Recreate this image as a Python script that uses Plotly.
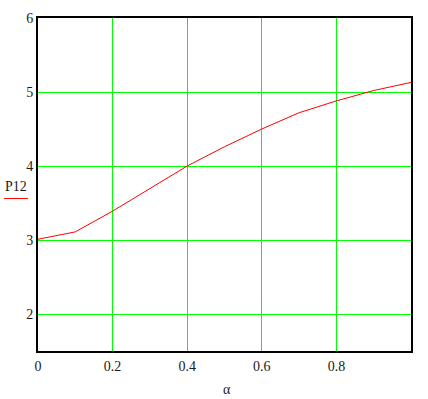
import plotly.graph_objects as go

alpha = [0.0, 0.1, 0.2, 0.3, 0.4, 0.5, 0.6, 0.7, 0.8, 0.9, 1.0]
p12 = [3.01, 3.11, 3.39, 3.69, 4.0, 4.26, 4.5, 4.72, 4.88, 5.02, 5.13]
x_ticks = [0, 0.2, 0.4, 0.6, 0.8]
x_labels = ["0", "0.2", "0.4", "0.6", "0.8"]
y_ticks = [2, 3, 4, 5, 6]
y_labels = ["2", "3", "4", "5", "6"]

font = dict(family="Liberation Serif, Times New Roman, serif", size=14, color="#1a1a1a")

fig = go.Figure()
fig.add_trace(go.Scatter(x=alpha, y=p12, mode="lines",
                         line=dict(color="#FF0000", width=1), showlegend=False))

fig.update_layout(
    width=428, height=399,
    margin=dict(l=38, r=17, t=18, b=48, autoexpand=False),
    paper_bgcolor="white", plot_bgcolor="white",
    font=font,
    xaxis=dict(range=[0, 1], tickvals=x_ticks, ticktext=x_labels,
               showgrid=True, gridcolor="#00FF00", gridwidth=1,
               zeroline=False, showline=True, linecolor="black", linewidth=2,
               mirror=True, ticks="", ticklabelstandoff=1, tickfont=font),
    yaxis=dict(range=[1.5, 6], tickvals=y_ticks, ticktext=y_labels,
               showgrid=True, gridcolor="#00FF00", gridwidth=1,
               zeroline=False, showline=True, linecolor="black", linewidth=2,
               mirror=True, ticks="", ticklabelstandoff=0, tickfont=font),
    annotations=[
        dict(text="P12", xref="paper", yref="paper", x=-0.058, y=0.495,
             xanchor="center", yanchor="middle", showarrow=False, font=font),
        dict(text="α", xref="paper", yref="paper", x=0.508, y=-0.115,
             xanchor="center", yanchor="middle", showarrow=False, font=font),
    ],
    shapes=[
        dict(type="line", xref="paper", yref="paper", x0=-0.091, x1=-0.027,
             y0=0.458, y1=0.458, line=dict(color="#FF0000", width=1)),
    ],
)

fig.write_html("out.html", config={"displayModeBar": False},
               post_script="document.body.style.margin='0';")
